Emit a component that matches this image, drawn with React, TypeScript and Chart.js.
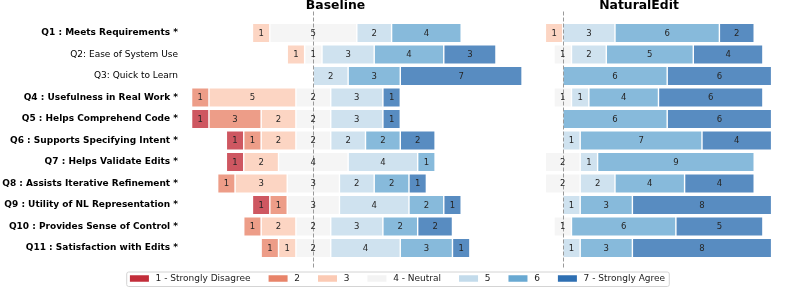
import React, { useEffect, useRef } from 'react';
import { Chart, registerables } from 'chart.js';

Chart.register(...registerables);

const FONT = '"DejaVu Sans", "Liberation Sans", sans-serif';

// ---- data ----
const questionLabels = [
  'Q1 : Meets Requirements *',
  'Q2: Ease of System Use',
  'Q3: Quick to Learn',
  'Q4 : Usefulness in Real Work *',
  'Q5 : Helps Comprehend Code *',
  'Q6 : Supports Specifying Intent *',
  'Q7 : Helps Validate Edits *',
  'Q8 : Assists Iterative Refinement *',
  'Q9 : Utility of NL Representation *',
  'Q10 : Provides Sense of Control *',
  'Q11 : Satisfaction with Edits *',
];
const significant = [true, false, false, true, true, true, true, true, true, true, true];

const levelLabels = ['1 - Strongly Disagree', '2', '3', '4 - Neutral', '5', '6', '7 - Strongly Agree'];
const levelColors = ['#c22d3a', '#e8846a', '#fbcab4', '#f3f3f3', '#c3dbeb', '#69a9d2', '#2e6fb2'];

const panelTitles = ['Baseline', 'NaturalEdit'];

// Baseline counts per Likert level (Q1..Q11)
const baselineL1 = [0, 0, 0, 0, 1, 1, 1, 0, 1, 0, 0];
const baselineL2 = [0, 0, 0, 1, 3, 1, 0, 1, 1, 1, 1];
const baselineL3 = [1, 1, 0, 5, 2, 2, 2, 3, 0, 2, 1];
const baselineL4 = [5, 1, 0, 2, 2, 2, 4, 3, 3, 2, 2];
const baselineL5 = [2, 3, 2, 3, 3, 2, 4, 2, 4, 3, 4];
const baselineL6 = [4, 4, 3, 0, 0, 2, 1, 2, 2, 2, 3];
const baselineL7 = [0, 3, 7, 1, 1, 2, 0, 1, 1, 2, 1];

// NaturalEdit counts per Likert level (Q1..Q11)
const naturalL1 = [0, 0, 0, 0, 0, 0, 0, 0, 0, 0, 0];
const naturalL2 = [0, 0, 0, 0, 0, 0, 0, 0, 0, 0, 0];
const naturalL3 = [1, 0, 0, 0, 0, 0, 0, 0, 0, 0, 0];
const naturalL4 = [0, 1, 0, 1, 0, 0, 2, 2, 0, 1, 0];
const naturalL5 = [3, 2, 0, 1, 0, 1, 1, 2, 1, 0, 1];
const naturalL6 = [6, 5, 6, 4, 6, 7, 9, 4, 3, 6, 3];
const naturalL7 = [2, 4, 6, 6, 6, 4, 0, 4, 8, 5, 8];

const baselineRange = [-7.55, 10.1];
const naturalRange = [-4.24, 13.0];

const baselineCounts = [baselineL1, baselineL2, baselineL3, baselineL4, baselineL5, baselineL6, baselineL7];
const naturalCounts = [naturalL1, naturalL2, naturalL3, naturalL4, naturalL5, naturalL6, naturalL7];

function hexToRgba(hex: string, a: number) {
  const n = parseInt(hex.slice(1), 16);
  return `rgba(${(n >> 16) & 255},${(n >> 8) & 255},${n & 255},${a})`;
}

// diverging segments: neutral centred on 0
function buildSegments(counts: number[][]) {
  const nq = counts[0].length;
  const out: (number[] | null)[][] = counts.map(() => new Array(nq).fill(null));
  for (let q = 0; q < nq; q++) {
    const half = counts[3][q] / 2;
    if (counts[3][q] > 0) out[3][q] = [-half, half];
    let left = -half;
    for (let l = 2; l >= 0; l--) {
      const c = counts[l][q];
      if (c > 0) out[l][q] = [left - c, left];
      left -= c;
    }
    let right = half;
    for (let l = 4; l < 7; l++) {
      const c = counts[l][q];
      if (c > 0) out[l][q] = [right, right + c];
      right += c;
    }
  }
  return out;
}

const labelPlugin = {
  id: 'segLabels',
  afterDatasetsDraw(chart: any) {
    const ctx = chart.ctx;
    const y = chart.scales.y;
    const band = y.getPixelForValue(1) - y.getPixelForValue(0);
    const top = y.getPixelForValue(0) - band;
    const bottom = y.getPixelForValue(questionLabels.length - 1) + band;
    ctx.save();
    ctx.strokeStyle = '#9a9a9a';
    ctx.lineWidth = 1;
    ctx.setLineDash([4, 2]);
    ['xb', 'xn'].forEach((id) => {
      const x = Math.round(chart.scales[id].getPixelForValue(0)) + 0.5;
      ctx.beginPath();
      ctx.moveTo(x, top);
      ctx.lineTo(x, bottom);
      ctx.stroke();
    });
    ctx.setLineDash([]);
    ctx.font = `8.5px ${FONT}`;
    ctx.fillStyle = '#262626';
    ctx.textAlign = 'center';
    ctx.textBaseline = 'middle';
    chart.data.datasets.forEach((ds: any, i: number) => {
      const meta = chart.getDatasetMeta(i);
      meta.data.forEach((el: any, j: number) => {
        const c = ds.counts[j];
        if (!c) return;
        const p = el.getProps(['x', 'base', 'y'], true);
        ctx.fillText(String(c), (p.x + p.base) / 2, p.y + 0.5);
      });
    });
    ctx.restore();
  },
};

const legendPlugin = {
  id: 'likertLegend',
  afterDraw(chart: any) {
    const ctx = chart.ctx;
    ctx.save();
    ctx.font = `9px ${FONT}`;
    const sw = 19, sh = 6.5, gapText = 6.7, gapItem = 18, padX = 3.7;
    const widths = levelLabels.map((t) => ctx.measureText(t).width);
    const total = widths.reduce((a, w) => a + sw + gapText + w, 0) + gapItem * (levelLabels.length - 1);
    const cx = chart.width / 2 + 1;
    const cy = chart.height - 8.5;
    let x = cx - total / 2;
    const bx = x - padX, by = cy - 7, bw = total + 2 * padX, bh = 14.5;
    ctx.beginPath();
    ctx.roundRect(bx + 0.5, by + 0.5, bw, bh, 2);
    ctx.fillStyle = 'rgba(255,255,255,0.85)';
    ctx.fill();
    ctx.strokeStyle = '#d4d4d4';
    ctx.lineWidth = 1;
    ctx.stroke();
    ctx.textBaseline = 'middle';
    ctx.textAlign = 'left';
    levelLabels.forEach((t, i) => {
      ctx.fillStyle = levelColors[i];
      ctx.fillRect(x, cy - sh / 2, sw, sh);
      ctx.fillStyle = '#222';
      ctx.fillText(t, x + sw + gapText, cy + 0.5);
      x += sw + gapText + widths[i] + gapItem;
    });
    ctx.restore();
  },
};

export default function App() {
  const ref = useRef<HTMLCanvasElement | null>(null);

  useEffect(() => {
    if (!ref.current) return;
    const datasets: any[] = [];
    [baselineCounts, naturalCounts].forEach((counts, p) => {
      const segs = buildSegments(counts);
      segs.forEach((data, l) => {
        datasets.push({
          label: levelLabels[l],
          data,
          counts: counts[l],
          xAxisID: p === 0 ? 'xb' : 'xn',
          yAxisID: 'y',
          backgroundColor: hexToRgba(levelColors[l], 0.8),
          borderColor: '#ffffff',
          borderWidth: 0.7,
          borderSkipped: false,
          grouped: false,
          clip: false,
          barPercentage: 0.9,
          categoryPercentage: 1,
        });
      });
    });

    const xAxis = (range: number[], title: string, weight: number, sw: number) => ({
      type: 'linear',
      position: 'top',
      stack: 'panels',
      stackWeight: sw,
      weight,
      min: range[0],
      max: range[1],
      grid: { display: false, drawTicks: false },
      border: { display: false },
      ticks: { display: false },
      title: {
        display: true,
        text: title,
        color: '#000',
        font: { family: FONT, size: 12.4, weight: 'bold', lineHeight: 1 },
        padding: { top: 0, bottom: 0 },
      },
      afterFit: (s: any) => { s.height = 22.25; },
    });

    const chart = new Chart(ref.current, {
      type: 'bar',
      data: { labels: questionLabels, datasets },
      options: {
        indexAxis: 'y',
        animation: false,
        responsive: false,
        maintainAspectRatio: false,
        layout: { padding: { left: 0, right: 4, top: 0, bottom: 28.25 } },
        plugins: { legend: { display: false }, tooltip: { enabled: false }, title: { display: false } },
        scales: {
          xb: xAxis(baselineRange, panelTitles[0], 2, 307),
          xn: xAxis(naturalRange, panelTitles[1], 1, 300),
          y: {
            type: 'category',
            position: 'left',
            grid: { display: false, drawTicks: false },
            border: { display: false },
            ticks: {
              padding: 4,
              color: '#000',
              font: (c: any) => ({ family: FONT, size: 9, weight: significant[c.index] ? 'bold' : 'normal' }),
            },
            afterFit: (s: any) => { s.width = 182; },
          },
        },
      } as any,
      plugins: [labelPlugin, legendPlugin],
    });
    return () => chart.destroy();
  }, []);

  return (
    <div style={{ position: 'fixed', left: 0, top: 0, width: 793, height: 287, background: '#fff' }}>
      <canvas ref={ref} width={793} height={287} style={{ display: 'block', width: 793, height: 287 }} />
    </div>
  );
}
